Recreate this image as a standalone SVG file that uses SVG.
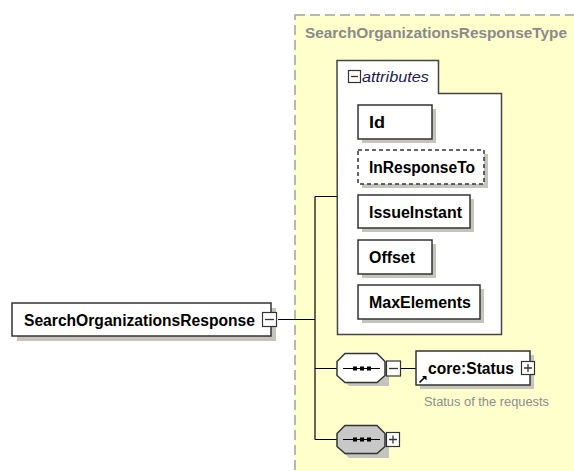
<svg xmlns="http://www.w3.org/2000/svg" width="574" height="471" viewBox="0 0 574 471">
<style>
.el{fill:#fff;stroke:#333;stroke-width:1.5}
.sh{fill:#c4c4bc}
.t{font-family:"Liberation Sans",Arial,sans-serif;font-weight:bold;font-size:16px;fill:#000}
.ib{fill:#fff;stroke:#333;stroke-width:1.2}
.ic{stroke:#333;stroke-width:1.3;fill:none}
.cn{stroke:#000;stroke-width:1.2;fill:none}
</style>
<rect x="0" y="0" width="574" height="471" fill="#fff"/>
<g id="complexType">
<rect x="295" y="15" width="290" height="470" fill="#ffffcc" stroke="#a0a0a0" stroke-width="1.5" stroke-dasharray="10,5"/>
<text x="305" y="38" font-family="Liberation Sans,Arial,sans-serif" font-weight="bold" font-size="15.5" fill="#8a8a8a" textLength="262" lengthAdjust="spacingAndGlyphs">SearchOrganizationsResponseType</text>
</g>
<g id="connectors">
<path class="cn" d="M278 319.5H315M315 196.5V439.5M315 196.5H337M315 368.5H337M315 439.5H337M401 368.5H416"/>
</g>
<g id="attributes">
<path d="M337 60.5H438.5V93.5H501.5V334.5H337.5Z" fill="#fff" stroke="#444" stroke-width="1.5"/>
<rect class="ib" x="348.5" y="70.5" width="12" height="12"/>
<path class="ic" d="M351 76.5H358"/>
<text x="362" y="82" font-family="Liberation Sans,Arial,sans-serif" font-style="italic" font-size="15.5" fill="#1c1c50" textLength="67" lengthAdjust="spacingAndGlyphs">attributes</text>
</g>
<g id="attr-Id">
<rect class="sh" x="362" y="109" width="74" height="34"/>
<rect class="el" x="358" y="105" width="74" height="34"/>
<text class="t" x="369" y="127.5" textLength="16" lengthAdjust="spacingAndGlyphs">Id</text>
</g>
<g id="attr-InResponseTo">
<rect class="sh" x="362" y="154" width="126" height="34"/>
<rect x="358" y="150" width="126" height="34" fill="#fff" stroke="#333" stroke-width="1.5" stroke-dasharray="4,3"/>
<text class="t" x="369" y="172.5" textLength="106" lengthAdjust="spacingAndGlyphs">InResponseTo</text>
</g>
<g id="attr-IssueInstant">
<rect class="sh" x="362" y="199" width="112" height="33"/>
<rect class="el" x="358" y="195" width="112" height="33"/>
<text class="t" x="369" y="217.5" textLength="93" lengthAdjust="spacingAndGlyphs">IssueInstant</text>
</g>
<g id="attr-Offset">
<rect class="sh" x="362" y="244" width="74" height="34"/>
<rect class="el" x="358" y="240" width="74" height="34"/>
<text class="t" x="369" y="262.5" textLength="46" lengthAdjust="spacingAndGlyphs">Offset</text>
</g>
<g id="attr-MaxElements">
<rect class="sh" x="362" y="289" width="122" height="34"/>
<rect class="el" x="358" y="285" width="122" height="34"/>
<text class="t" x="369" y="307.5" textLength="102" lengthAdjust="spacingAndGlyphs">MaxElements</text>
</g>
<g id="SearchOrganizationsResponse">
<rect class="sh" x="17" y="308" width="259" height="33"/>
<rect class="el" x="12" y="303" width="259" height="33"/>
<text class="t" x="24" y="325.5" textLength="231" lengthAdjust="spacingAndGlyphs">SearchOrganizationsResponse</text>
<rect class="ib" x="262.5" y="312.5" width="14" height="14"/>
<path class="ic" d="M265 319.5H274"/>
</g>
<g id="sequence1">
<path class="sh" d="M349 357H381L389 365V386H349L341 378V365Z"/>
<path d="M345 353.5H377L385 361.5V375.5L377 382.5H345L337 375.5V361.5Z" fill="#fff" stroke="#333" stroke-width="1.5"/>
<path class="cn" d="M343 368.5H380"/>
<rect x="353" y="366.5" width="4" height="4" fill="#000"/>
<rect x="360" y="366.5" width="4" height="4" fill="#000"/>
<rect x="367" y="366.5" width="4" height="4" fill="#000"/>
<rect class="ib" x="386.5" y="361" width="14" height="15"/>
<path class="ic" d="M389 368.5H398"/>
</g>
<g id="coreStatus">
<rect class="sh" x="420" y="355" width="114" height="34"/>
<rect class="el" x="416" y="351" width="114" height="34"/>
<text class="t" x="428" y="374" textLength="86" lengthAdjust="spacingAndGlyphs">core:Status</text>
<rect class="ib" x="521.5" y="361.5" width="13" height="13"/>
<path class="ic" d="M524 368H532M528 364V372"/>
<path d="M419.5 382.5L425 377" stroke="#000" stroke-width="1.6"/>
<path d="M422 376H426.5V380.5Z" fill="#000"/>
<text x="424" y="406" font-family="Liberation Sans,Arial,sans-serif" font-size="12.5" fill="#8c8c8c" textLength="125" lengthAdjust="spacingAndGlyphs">Status of the requests</text>
</g>
<g id="sequence2">
<path class="sh" d="M349 429H381L389 437V458H349L341 450V437Z"/>
<path d="M345 425.5H377L385 433.5V446.5L377 453.5H345L337 446.5V433.5Z" fill="#c8c8c8" stroke="#333" stroke-width="1.5"/>
<path class="cn" d="M343 439.5H380"/>
<rect x="353" y="437.5" width="4" height="4" fill="#000"/>
<rect x="360" y="437.5" width="4" height="4" fill="#000"/>
<rect x="367" y="437.5" width="4" height="4" fill="#000"/>
<rect class="ib" x="386.5" y="432.5" width="13" height="14"/>
<path class="ic" d="M389 439.5H397M393 435.5V443.5"/>
</g>
</svg>
